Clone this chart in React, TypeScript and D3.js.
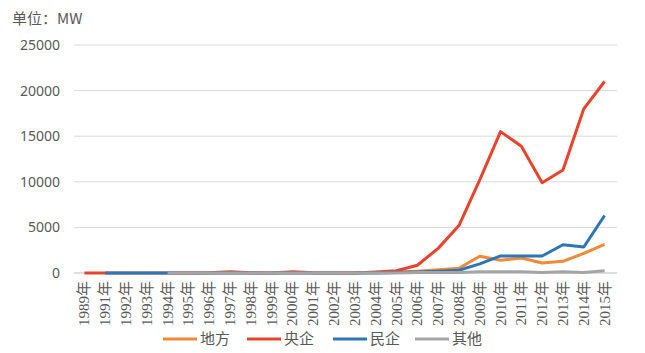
import { useEffect, useRef } from 'react';
import * as d3 from 'd3';

// categories and series (MW)
const years = ['1989年', '1991年', '1992年', '1993年', '1994年', '1995年', '1996年', '1997年', '1998年', '1999年', '2000年', '2001年', '2002年', '2003年', '2004年', '2005年', '2006年', '2007年', '2008年', '2009年', '2010年', '2011年', '2012年', '2013年', '2014年', '2015年'];
const difang = [null, null, null, null, 0, 0, 0, 0, 0, 0, 0, 0, 0, 0, 50, 100, 200, 350, 520, 1830, 1400, 1650, 1100, 1280, 2150, 3150];
const yangqi = [0, 0, 0, 0, 0, 0, 30, 150, 20, 0, 150, 30, 0, 0, 100, 250, 850, 2700, 5200, 10200, 15500, 13900, 9900, 11300, 18000, 21000];
const minqi = [null, 0, 0, 0, 0, 0, 0, 0, 0, 0, 0, 0, 0, 0, 0, 50, 100, 200, 300, 1000, 1870, 1870, 1870, 3100, 2850, 6300];
const qita = [null, null, null, null, 0, 0, 0, 0, 0, 0, 0, 0, 0, 0, 0, 0, 50, 50, 50, 150, 150, 150, 50, 150, 50, 250];
const yTicks = [0, 5000, 10000, 15000, 20000, 25000];

const seriesNames = ['地方', '央企', '民企', '其他'];
const seriesData = [difang, yangqi, minqi, qita];
const colors = ['#F08A3A', '#E8432C', '#2E75B6', '#A5A5A5'];

export default function App() {
  const svgRef = useRef<SVGSVGElement>(null);

  useEffect(() => {
    if (!svgRef.current) return;
    const svg = d3.select(svgRef.current);
    svg.selectAll('*').remove();

    const left = 74, right = 615, top = 45, bottom = 273;
    const x = d3.scalePoint<string>().domain(years).range([left, right]).padding(0.5);
    const y = d3.scaleLinear().domain([0, 25000]).range([bottom, top]);

    // unit label
    svg.append('text').attr('x', 12).attr('y', 24)
      .attr('font-family', '"Noto Sans CJK SC", "Noto Sans", sans-serif').attr('font-size', 15)
      .attr('fill', '#595959').text('单位：MW');

    // gridlines + y labels
    yTicks.forEach(t => {
      svg.append('line').attr('x1', left).attr('x2', right + 2)
        .attr('y1', y(t)).attr('y2', y(t))
        .attr('stroke', t === 0 ? '#BFBFBF' : '#D9D9D9').attr('stroke-width', 1);
      svg.append('text').attr('x', 60).attr('y', y(t)).attr('dy', '0.35em')
        .attr('text-anchor', 'end').attr('font-family', '"Noto Sans", sans-serif')
        .attr('font-size', 14).attr('fill', '#595959').text(t);
    });

    // x labels rotated
    years.forEach(yr => {
      svg.append('text')
        .attr('transform', `translate(${x(yr)! + 5},${bottom + 8}) rotate(-90)`)
        .attr('text-anchor', 'end')
        .attr('font-family', '"Liberation Serif", "Noto Sans CJK SC", serif')
        .attr('font-size', 15).attr('fill', '#595959').text(yr);
    });

    // lines
    seriesData.forEach((data, i) => {
      const line = d3.line<number | null>()
        .defined(d => d !== null)
        .x((_, j) => x(years[j])!)
        .y(d => y(d as number));
      svg.append('path').datum(data).attr('d', line as any)
        .attr('fill', 'none').attr('stroke', colors[i]).attr('stroke-width', 3)
        .attr('stroke-linejoin', 'round');
    });

    // legend
    const legendX = [163, 247, 333, 415];
    seriesNames.forEach((n, i) => {
      const lx = legendX[i];
      svg.append('line').attr('x1', lx).attr('x2', lx + 34).attr('y1', 339).attr('y2', 339)
        .attr('stroke', colors[i]).attr('stroke-width', 3);
      svg.append('text').attr('x', lx + 37).attr('y', 339).attr('dy', '0.35em')
        .attr('font-family', '"Noto Sans CJK SC", sans-serif').attr('font-size', 15)
        .attr('fill', '#595959').text(n);
    });
  }, []);

  return (
    <svg ref={svgRef} width={645} height={353}
      style={{ position: 'absolute', left: 0, top: 0, background: '#fff' }} />
  );
}
